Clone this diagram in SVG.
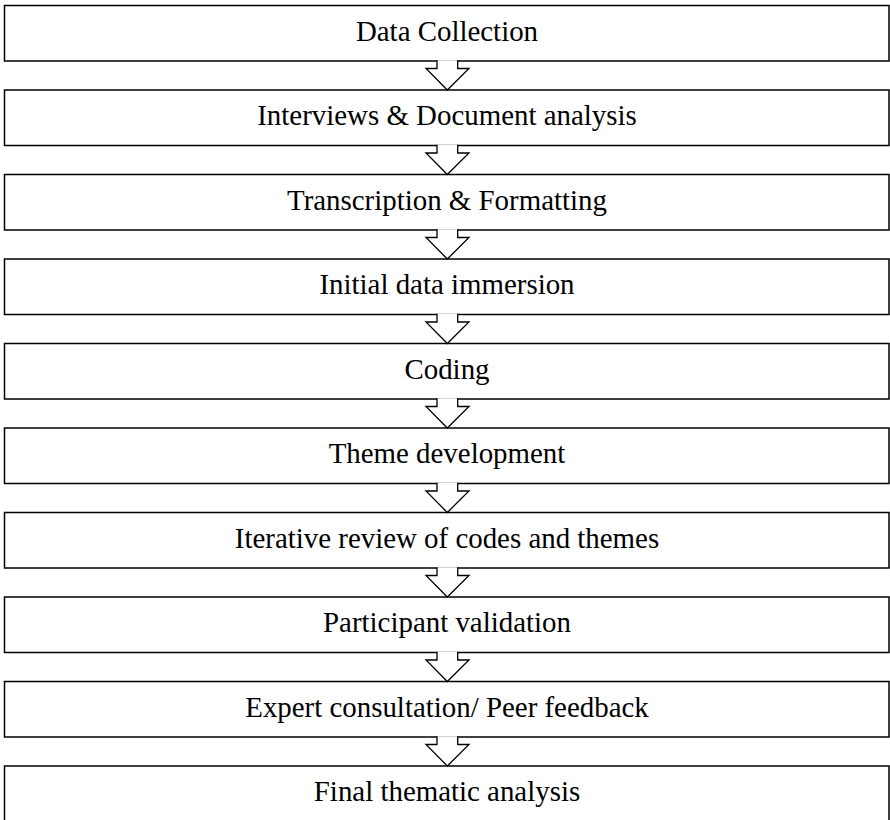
<svg xmlns="http://www.w3.org/2000/svg" xmlns:xlink="http://www.w3.org/1999/xlink" width="890" height="820" viewBox="0 0 890 820">
  <style>
    .box { fill: #ffffff; stroke: #000000; stroke-width: 1.5; }
    .label { font-family: "Liberation Serif", "Times New Roman", serif; font-size: 28.9px; fill: #000000; text-anchor: middle; }
    .arrow { fill: #ffffff; stroke: #000000; stroke-width: 1.3; stroke-linejoin: miter; }
  </style>
  <defs>
    <!-- hollow block arrow, origin at the bottom edge of the upper box -->
    <path id="down" class="arrow" d="M-10,-0.8 V7.5 H-21 L0.3,29 L22,7.5 H10.7 V-0.8"/>
  </defs>

  <g id="step1"><rect class="box" x="4.5" y="5.5" width="884.5" height="55.5"/><text class="label" x="447" y="40.7">Data Collection</text></g>
  <g id="step2"><rect class="box" x="4.5" y="90" width="884.5" height="55.5"/><text class="label" x="447" y="125.2">Interviews &amp; Document analysis</text></g>
  <g id="step3"><rect class="box" x="4.5" y="174.5" width="884.5" height="55.5"/><text class="label" x="447" y="209.7">Transcription &amp; Formatting</text></g>
  <g id="step4"><rect class="box" x="4.5" y="259" width="884.5" height="55.5"/><text class="label" x="447" y="294.2">Initial data immersion</text></g>
  <g id="step5"><rect class="box" x="4.5" y="343.5" width="884.5" height="55.5"/><text class="label" x="447" y="378.7">Coding</text></g>
  <g id="step6"><rect class="box" x="4.5" y="428" width="884.5" height="55.5"/><text class="label" x="447" y="463.2">Theme development</text></g>
  <g id="step7"><rect class="box" x="4.5" y="512.5" width="884.5" height="55.5"/><text class="label" x="447" y="547.7">Iterative review of codes and themes</text></g>
  <g id="step8"><rect class="box" x="4.5" y="597" width="884.5" height="55.5"/><text class="label" x="447" y="632.2">Participant validation</text></g>
  <g id="step9"><rect class="box" x="4.5" y="681.5" width="884.5" height="55.5"/><text class="label" x="447" y="716.7">Expert consultation/ Peer feedback</text></g>
  <g id="step10"><rect class="box" x="4.5" y="766" width="884.5" height="55.5"/><text class="label" x="447" y="801.2">Final thematic analysis</text></g>

  <g id="connectors">
    <use xlink:href="#down" transform="translate(447,61)"/>
    <use xlink:href="#down" transform="translate(447,145.5)"/>
    <use xlink:href="#down" transform="translate(447,230)"/>
    <use xlink:href="#down" transform="translate(447,314.5)"/>
    <use xlink:href="#down" transform="translate(447,399)"/>
    <use xlink:href="#down" transform="translate(447,483.5)"/>
    <use xlink:href="#down" transform="translate(447,568)"/>
    <use xlink:href="#down" transform="translate(447,652.5)"/>
    <use xlink:href="#down" transform="translate(447,737)"/>
  </g>
</svg>
